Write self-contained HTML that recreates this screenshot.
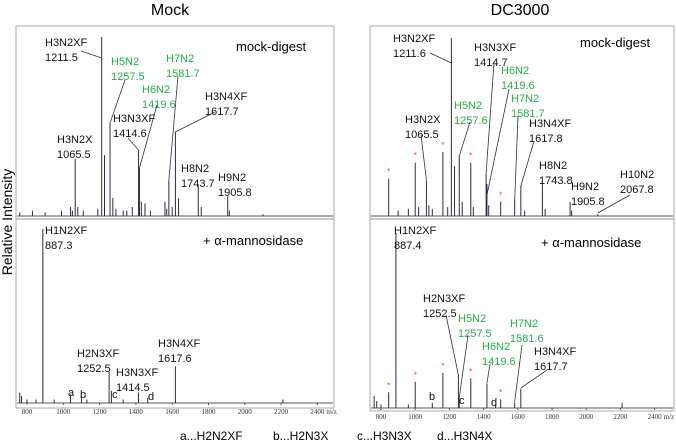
<!DOCTYPE html>
<html><head><meta charset="utf-8">
<style>
html,body{margin:0;padding:0;background:#fff;}
svg{display:block;font-family:"Liberation Sans",sans-serif;}
.lbl{font-size:11px;fill:#111;}
.g{fill:#22b04b;}
.ax{font-family:"Liberation Serif",serif;font-size:7px;fill:#333;}
</style></head>
<body>
<svg id="fig" width="676" height="441" viewBox="0 0 676 441" xmlns="http://www.w3.org/2000/svg">
<text x="170" y="15" font-size="16" text-anchor="middle">Mock</text>
<text x="520" y="15" font-size="16" text-anchor="middle">DC3000</text>
<text transform="translate(12,222) rotate(-90)" font-size="14" text-anchor="middle">Relative Intensity</text>
<rect x="16" y="26" width="318" height="382" fill="none" stroke="#aaa" stroke-width="1"/>
<line x1="16" y1="219" x2="334" y2="219" stroke="#999"/>
<rect x="370" y="26" width="304" height="385" fill="none" stroke="#aaa" stroke-width="1"/>
<line x1="370" y1="219" x2="674" y2="219" stroke="#999"/>
<text x="180" y="440" font-size="12">a...H2N2XF</text>
<text x="273" y="440" font-size="12">b...H2N3X</text>
<text x="357" y="440" font-size="12">c...H3N3X</text>
<text x="437" y="440" font-size="12">d...H3N4X</text>
<g id="plots"></g>
</svg>
<script>
// ---- data: m/z and relative intensity per spectrum ----
const mockTopMz = [760,830,900,990,1040,1050,1065.5,1080,1110,1190,1211.5,1227,1257.5,1273,1290,1330,1350,1380,1414.6,1419.6,1430,1450,1480,1560,1570,1581.7,1600,1617.7,1635,1743.7,1760,1905.8,1915,2100];
const mockTopI  = [0.02,0.03,0.02,0.03,0.05,0.03,0.32,0.05,0.03,0.04,1.0,0.34,0.52,0.1,0.04,0.03,0.03,0.05,0.37,0.27,0.08,0.07,0.03,0.08,0.04,0.2,0.05,0.47,0.1,0.17,0.05,0.11,0.03,0.01];
const mockBotMz = [760,770,800,850,887.3,950,1040,1100,1130,1252.5,1265,1330,1414.5,1465,1617.6,2210];
const mockBotI  = [0.06,0.04,0.02,0.02,1.0,0.02,0.05,0.04,0.02,0.18,0.07,0.02,0.06,0.03,0.21,0.02];
const dcTopMz = [845,900,960,1000,1020,1065.5,1080,1100,1162,1190,1211.6,1230,1257.6,1275,1325,1340,1414.7,1419.6,1430,1500,1581.7,1617.8,1640,1743.8,1760,1905.8,1915,2067.8];
const dcTopI  = [0.21,0.03,0.04,0.3,0.05,0.2,0.06,0.04,0.36,0.05,1.0,0.28,0.34,0.08,0.3,0.05,0.24,0.18,0.06,0.08,0.09,0.17,0.03,0.18,0.04,0.08,0.03,0.01];
const dcBotMz = [760,775,800,845,887.4,960,1000,1100,1162,1252.5,1257.5,1325,1419.6,1470,1500,1581.6,1617.7,2210];
const dcBotI  = [0.07,0.04,0.02,0.09,1.0,0.02,0.15,0.03,0.2,0.19,0.06,0.17,0.14,0.02,0.05,0.03,0.11,0.03];
const dcTopStars = [845,1000,1162,1325,1500];
const dcBotStars = [845,1000,1162,1325,1500];
const tickLabels = ["800","1000","1200","1400","1600","1800","2000","2200","2400"];
const tickValues = [800,1000,1200,1400,1600,1800,2000,2200,2400];

const NS="http://www.w3.org/2000/svg";
const root=document.getElementById('plots');
function mk(tag,attrs,parent){const e=document.createElementNS(NS,tag);for(const k in attrs)e.setAttribute(k,attrs[k]);(parent||root).appendChild(e);return e;}

const panels={
  mockTop:{x0:27,k:0.1815,base:216,h:179,l:17,r:333},
  mockBot:{x0:27,k:0.1815,base:403,h:174,l:17,r:333},
  dcTop:{x0:381,k:0.171,base:216,h:178,l:371,r:673},
  dcBot:{x0:381,k:0.171,base:408,h:175,l:371,r:673}
};
function xs(p,mz){return p.x0+(mz-800)*p.k;}
function ys(p,v){return p.base-v*p.h;}

function drawPeaks(p,mzs,ints,name){
  const g=mk('g',{});
  
  
  const bl=mk('line',{x1:p.l,y1:p.base,x2:p.r,y2:p.base,stroke:'#556','stroke-width':1},g);
  
  
  for(let i=0;i<mzs.length;i++){
    const x=xs(p,mzs[i]);
    const ln=mk('line',{x1:x,y1:p.base,x2:x,y2:ys(p,ints[i]),stroke:'#2b2b48','stroke-width':1},g);
    
    
  }
}
function peakY(p,mzs,ints,mz){const i=mzs.indexOf(mz);return ys(p,ints[i]);}
function stars(p,mzs,ints,list){
  list.forEach(mz=>{
    const t=mk('text',{x:xs(p,mz),y:peakY(p,mzs,ints,mz)-4,'text-anchor':'middle','font-size':9,fill:'#f05a3a'});
    t.textContent='*';
    
    
  });
}
function axis(p,name){
  const g=mk('g',{});
  
  
  tickValues.forEach((v,i)=>{
    const x=xs(p,v);
    mk('line',{x1:x,y1:p.base,x2:x,y2:p.base+2,stroke:'#555'},g);
    const t=mk('text',{x:x,y:p.base+11,'text-anchor':'middle',class:'ax'},g);
    t.textContent=tickLabels[i];
    
    
  });
  const u=mk('text',{x:xs(p,2400)+9,y:p.base+11,class:'ax'},g);
  u.textContent='m/z';
  
  
}
// annotation layout: [line1,line2,green,x,y1, leaderX,leaderY, peakMz, leaderEndY]
function labels(p,list){
  list.forEach(a=>{
    const c=a[2]?'lbl g':'lbl';
    const t1=mk('text',{x:a[3],y:a[4],class:c});t1.textContent=a[0];
    
    
    if(a[1]){const t2=mk('text',{x:a[3],y:a[4]+15,class:c});t2.textContent=a[1];
      
      }
    if(a[5]!=null){
      const l=mk('line',{x1:a[5],y1:a[6],x2:xs(p,a[7]),y2:a[8],stroke:'#333','stroke-width':0.8});
      
      
    }
  });
}
function panelTitle(x,y,txt){const t=mk('text',{x:x,y:y,'font-size':13});t.textContent=txt;
  
  }

const P=panels;
drawPeaks(P.mockTop,mockTopMz,mockTopI,'mock-digest');
drawPeaks(P.mockBot,mockBotMz,mockBotI,'mock-mannosidase');
drawPeaks(P.dcTop,dcTopMz,dcTopI,'dc-digest');
drawPeaks(P.dcBot,dcBotMz,dcBotI,'dc-mannosidase');
stars(P.dcTop,dcTopMz,dcTopI,dcTopStars);
stars(P.dcBot,dcBotMz,dcBotI,dcBotStars);
axis(P.mockBot,'mock');
axis(P.dcBot,'dc');
panelTitle(236,51,'mock-digest');panelTitle(203,245,'+ α-mannosidase');
panelTitle(580,47,'mock-digest');panelTitle(541,247,'+ α-mannosidase');

labels(P.mockTop,[
 ['H3N2XF','1211.5',0,45,46,81,51,1211.5,58],
 ['H5N2','1257.5',1,111,65,125,80,1257.5,123],
 ['H7N2','1581.7',1,166,62,178,76,1581.7,180],
 ['H6N2','1419.6',1,142,93,157,105,1419.6,168],
 ['H3N4XF','1617.7',0,205,100,215,112,1617.7,132],
 ['H3N3XF','1414.6',0,113,122,128,138,1414.6,150],
 ['H3N2X','1065.5',0,57,143,null],
 ['H8N2','1743.7',0,181,172,null],
 ['H9N2','1905.8',0,218,181,null]
]);
labels(P.mockBot,[
 ['H1N2XF','887.3',0,45,234,null],
 ['H2N3XF','1252.5',0,77,357,null],
 ['H3N3XF','1414.5',0,116,376,null],
 ['H3N4XF','1617.6',0,158,347,null],
 ['a','',0,68,396,null],['b','',0,80,398,null],['c','',0,112,398,null],['d','',0,148,400,null]
]);
labels(P.dcTop,[
 ['H3N2XF','1211.6',0,393,42,430,53,1211.6,63],
 ['H3N3XF','1414.7',0,474,51,494,63,1414.7,173],
 ['H6N2','1419.6',1,501,74,509,89,1419.6,195],
 ['H5N2','1257.6',1,454,109,470,122,1257.6,156],
 ['H7N2','1581.7',1,511,102,518,116,1581.7,200],
 ['H3N2X','1065.5',0,405,123,421,135,1065.5,180],
 ['H3N4XF','1617.8',0,529,127,534,141,1617.8,186],
 ['H8N2','1743.8',0,539,169,null],
 ['H9N2','1905.8',0,571,190,null],
 ['H10N2','2067.8',0,620,178,630,195,2067.8,213]
]);
labels(P.dcBot,[
 ['H1N2XF','887.4',0,394,234,null],
 ['H2N3XF','1252.5',0,423,302,446,315,1252.5,375],
 ['H5N2','1257.5',1,458,322,468,335,1257.5,398],
 ['H6N2','1419.6',1,482,350,490,364,1419.6,383],
 ['H7N2','1581.6',1,510,327,522,345,1581.6,402],
 ['H3N4XF','1617.7',0,534,355,547,370,1617.7,388],
 ['b','',0,429,400,null],['c','',0,459,404,null],['d','',0,491,406,null]
]);
</script>
</body></html>
